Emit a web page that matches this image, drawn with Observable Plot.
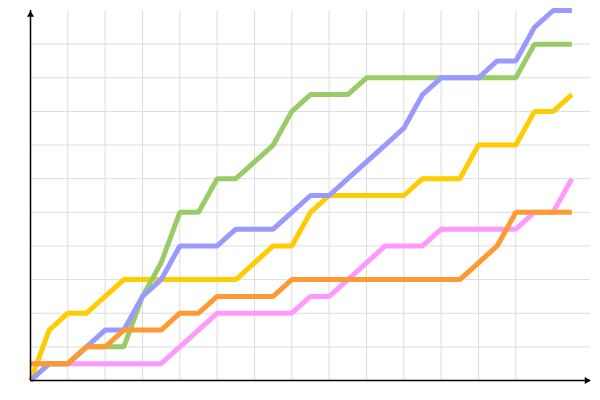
<!DOCTYPE html>
<html>
<head>
<meta charset="utf-8">
<script src="https://cdn.jsdelivr.net/npm/d3@7"></script>
<script src="https://cdn.jsdelivr.net/npm/@observablehq/plot@0.6"></script>
<style>
  html, body { margin: 0; padding: 0; background: #fff; }
  #chart svg { display: block; }
</style>
</head>
<body>
<div id="chart"></div>
<script>
const steps = [0,1,2,3,4,5,6,7,8,9,10,11,12,13,14,15,16,17,18,19,20,21,22,23,24,25,26,27,28,29];

const yellowValues = [0,3,4,4,5,6,6,6,6,6,6,6,7,8,8,10,11,11,11,11,11,12,12,12,14,14,14,16,16,17];
const pinkValues   = [1,1,1,1,1,1,1,1,2,3,4,4,4,4,4,5,5,6,7,8,8,8,9,9,9,9,9,10,10,12];
const greenValues  = [0,1,1,2,2,2,5,7,10,10,12,12,13,14,16,17,17,17,18,18,18,18,18,18,18,18,18,20,20,20];
const blueValues   = [0,1,1,2,3,3,5,6,8,8,8,9,9,9,10,11,11,12,13,14,15,17,18,18,18,19,19,21,22,22];
const orangeValues = [1,1,1,2,2,3,3,3,4,4,5,5,5,5,6,6,6,6,6,6,6,6,6,6,7,8,10,10,10,10];

const series = [
  {name: "yellow", values: yellowValues, color: "#ffcc00"},
  {name: "pink",   values: pinkValues,   color: "#ff99ff"},
  {name: "green",  values: greenValues,  color: "#99cc66"},
  {name: "blue",   values: blueValues,   color: "#9999ff"},
  {name: "orange", values: orangeValues, color: "#ff9933"}
];

const xGrid = [2,4,6,8,10,12,14,16,18,20,22,24,26];
const yGrid = [2,4,6,8,10,12,14,16,18,20];
const xDomain = [0, 30];
const yDomain = [0, 22];

const lineMarks = series.map(s =>
  Plot.line(steps.map((x, i) => ({x, y: s.values[i]})), {
    x: "x", y: "y",
    stroke: s.color, strokeWidth: 5,
    strokeLinejoin: "miter", strokeLinecap: "butt", curve: "linear"
  })
);

const chart = Plot.plot({
  width: 600,
  height: 400,
  marginLeft: 30,
  marginRight: 10,
  marginTop: 10,
  marginBottom: 20,
  x: {domain: xDomain, axis: null},
  y: {domain: yDomain, axis: null},
  marks: [
    Plot.ruleY(yGrid, {stroke: "#dddddd", strokeWidth: 1, strokeOpacity: 1}),
    Plot.ruleX(xGrid, {stroke: "#dddddd", strokeWidth: 1, strokeOpacity: 1}),
    ...lineMarks,
    Plot.ruleX([0], {stroke: "black", strokeWidth: 1.5}),
    Plot.ruleY([0], {stroke: "black", strokeWidth: 1.5}),
    Plot.dot([{x: 0, y: 21.75}], {x: "x", y: "y", symbol: "triangle", r: 2.6, fill: "black", stroke: "none"}),
    Plot.dot([{x: 29.8, y: 0}], {x: "x", y: "y", symbol: "triangle", r: 2.6, fill: "black", stroke: "none", rotate: 90})
  ]
});

document.getElementById("chart").appendChild(chart);
</script>
</body>
</html>
